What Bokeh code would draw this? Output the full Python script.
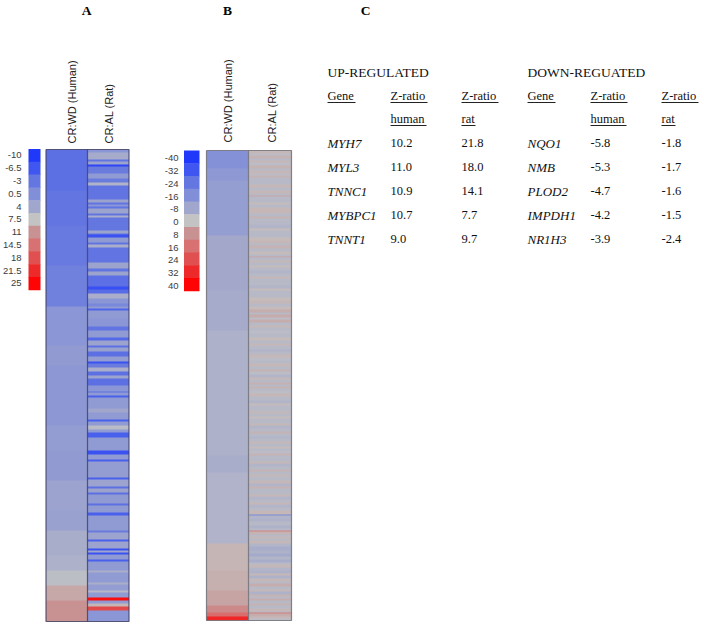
import numpy as np
from bokeh.plotting import figure
from bokeh.models import Range1d, LinearColorMapper
from bokeh.core.properties import value
from bokeh.transform import transform
from bokeh.embed import file_html
from bokeh.resources import INLINE

# ---- data ----
legend_a = [-10, -6.5, -3, 0.5, 4, 7.5, 11, 14.5, 18, 21.5, 25]
legend_b = [-40, -32, -24, -16, -8, 0, 8, 16, 24, 32, 40]
legend_colors = ["#2038fa", "#4058f0", "#6476e0", "#8290d8", "#a0a6cc", "#c4c4c4",
                 "#c89292", "#d87272", "#e05050", "#ee2a2a", "#ff0404"]

a_human_n = [41, 35, 40, 41, 39, 20, 60, 25, 30, 30, 20, 25, 15, 15, 15, 21]
a_human_z = [-3.6, -3.1, -2.5, -1.6, 1.4, 2.2, 1.7, 2.6, 2.3, 3.4, 3.2, 4.8, 5.2, 6.8, 9.5, 11]

a_rat_n = [3, 7, 2, 3, 2, 7, 5, 4, 3, 14, 3, 2, 2, 2, 5, 2, 2, 13, 3, 1, 3, 5, 2, 3, 15, 6, 3, 4,
           11, 3, 4, 5, 5, 3, 2, 2, 8, 8, 4, 7, 3, 5, 2, 4, 5, 5, 2, 4, 4, 4, 3, 7,
           6, 1, 3, 2, 11, 4, 7, 2, 4, 4, 3, 5, 13, 4, 5, 2, 16, 2, 7, 2, 4, 2, 9, 2,
           7, 3, 15, 2, 7, 2, 7, 2, 2, 2, 5, 2, 9, 2, 10, 2, 6, 2, 5, 3, 3, 3, 4, 11]
a_rat_z = [1.4, 4.5, -3.2, 3.5, -8.5, -2.3, 2.1, -2.3, 5.5, -3.2, 3.6, -3.2, 1.4, -3.2, 3.6, -3.2, 5, -3, 3.6, -3.2, -7, 2.1, -3.2, 5, -3.2, 3.6, -3.2, 3.6,
           -3.8, -7.5, -4.2, 5, 1.4, -0.5, 2.1, -5, 2.1, 1.4, -3.2, 2.1, -4.5, 3.6, -3.6, 3.2, -3.6, 2.6, -7, -2.3, 5, -3.6, 3.6, -3.6,
           1.4, -3.6, 2.1, -5.5, 2.1, 4, 2.1, -5.5, 2.1, 6.5, 2.1, -5.5, 2.1, -7, 2.1, -5.5, 2.6, -5.5, 3.4, -3.6, 3.6, -3.6, 2.1, -3.6,
           2.1, -5.5, 2.1, -2.3, 3.4, -5.5, 3.4, -7, 4.2, -7, 2.1, -5.5, 2.1, 5, 2.1, 5, 2.6, 6.2, 2.1, 24, 2.1, 8.5, 18.5, 1.4]

b_human_n = [18, 12, 17, 38, 55, 40, 125, 17, 71, 27, 20, 15, 7, 4, 4]
b_human_z = [-15.5, -12.8, -10.7, -10.7, -7.2, -6.7, -5.3, -6.2, -4.4, 2.4, 3.3, 5, 10, 17, 33]

b_rat_n = [3, 2, 3, 2, 2, 3, 3, 2, 3, 2, 2, 3,
           4, 3, 3, 3, 2, 1, 3, 3, 2, 3, 3,
           3, 3, 2, 3, 3, 4, 2, 3, 4, 3,
           3, 2, 3, 3, 3, 2, 1, 3, 2, 3, 2, 3,
           3, 3, 2, 4, 3, 3, 2, 3, 4, 3,
           3, 3, 3, 3, 2, 3, 2, 3, 3, 2, 3,
           3, 4, 3, 3, 2, 4, 2, 3, 3, 3,
           3, 3, 3, 2, 3, 3, 2, 3, 2, 2, 2, 2,
           3, 3, 4, 3, 2, 3, 3, 2, 3, 2, 2,
           3, 2, 3, 3, 2, 3, 2, 3, 2, 3, 2, 2,
           3, 2, 3, 3, 2, 3, 3, 2, 3, 2, 4,
           3, 3, 2, 3, 3, 2, 3, 3, 2, 3, 3,
           4, 1, 3, 3, 4, 3, 2, 1, 3, 2, 2, 2,
           3, 3, 4, 3, 3, 3, 3, 2, 3, 3,
           3, 2, 3, 3, 2, 3, 3, 2, 3, 2, 2, 2,
           3, 2, 3, 3, 1, 1, 3, 2, 2]
b_rat_z = [2, -2, 2.5, -3, 2, -2, 2.5, -3, 2, -2, 2.5, -3,
           -3, 2, -3, 2, -3, 5, -3, -3, 1.5, -3, 2,
           2, -3, 2.5, -3, -3, -4, 1.5, -3, -3, 1.5,
           2, -3, 2.5, -3, 1.5, -3, 5, -3, 2, -3, 1.5, -3,
           -4, -3, 2, -3, -3, -4, 1.5, -3, -3, 1.5,
           2, -3, 1.5, 3.5, -3, 4, -2, 3.5, -3, 2, -3,
           -2, -3, 1.5, -3, 2, -3, -4.5, -3, 2, -2,
           -3, 2, -3, 2.5, -2, -4, 2, -3, 3, -3, 2.5, -3,
           -2, 2, -3, -4, 1.5, -3, -3, 2, -3, 1.5, -3,
           -3, 2, -4, -3, 2.5, -3, -4, -3, 2, -3, 1.5, -3,
           -2, 2.5, -3, -3, 2, -4, -3, 2.5, -3, 2, -3,
           2, -4, 2.5, -3, -3, 2, -4, -3, 2, -4, -3,
           2, -18, -4, -5, -3, -5, -3, 12, 2.5, -3, 2, -3,
           2, -4, -6, -5, -7, -4, -6, -3, 2, -4,
           -5, 2, -5, 2, -3, 3.5, -3, 2, -5, 2.5, -3, 3.5,
           -3, 2.5, -3, 2, -3, 14, 3.5, 2, -2]

panel_labels = ["A", "B", "C"]
column_labels = ["CR:WD (Human)", "CR:AL (Rat)"]

table_titles = ["UP-REGULATED", "DOWN-REGUATED"]
header_1 = ["Gene", "Z-ratio", "Z-ratio"]
header_2 = ["", "human", "rat"]
up_genes = ["MYH7", "MYL3", "TNNC1", "MYBPC1", "TNNT1"]
up_human = ["10.2", "11.0", "10.9", "10.7", "9.0"]
up_rat = ["21.8", "18.0", "14.1", "7.7", "9.7"]
down_genes = ["NQO1", "NMB", "PLOD2", "IMPDH1", "NR1H3"]
down_human = ["-5.8", "-5.3", "-4.7", "-4.2", "-3.9"]
down_rat = ["-1.8", "-1.7", "-1.6", "-1.5", "-2.4"]

assert len(a_rat_n) == len(a_rat_z) and len(b_rat_n) == len(b_rat_z)

# ---- scale ----
def hex2rgb(h):
    return [int(h[i:i + 2], 16) for i in (1, 3, 5)]

knots = np.array([hex2rgb(c) for c in legend_colors], dtype=float)
pos = np.linspace(0, 1, len(knots))
grid = np.linspace(0, 1, 256)
palette = ["#%02x%02x%02x" % tuple(int(round(np.interp(g, pos, knots[:, k]))) for k in range(3)) for g in grid]
map_a = LinearColorMapper(palette=palette, low=-10, high=25)
map_b = LinearColorMapper(palette=palette, low=-40, high=40)

W, H = 700, 625
p = figure(width=W, height=H, x_range=Range1d(0, W), y_range=Range1d(H, 0),
           output_backend="svg", toolbar_location=None, min_border=0, outline_line_color=None)
p.axis.visible = False
p.grid.visible = False
p.background_fill_color = "white"


def column(n, z, x0, x1, top, mapper):
    e = top + np.concatenate([[0], np.cumsum(n)])
    low = e[1:] + 0.6
    low[-1] = e[-1]
    p.quad(left=x0, right=x1, top="top", bottom="bottom",
           fill_color=transform("z", mapper), line_color=None,
           source=dict(top=e[:-1], bottom=low, z=z))
    return e[-1]


def heat(nh, zh, nr, zr, x0, xm, x1, top, mapper, edge, lw):
    b1 = column(nh, zh, x0, xm, top, mapper)
    b2 = column(nr, zr, xm, x1, top, mapper)
    bottom = max(b1, b2)
    p.multi_line(xs=[[x0, x0, x1, x1, x0], [xm, xm]],
                 ys=[[top, bottom, bottom, top, top], [top, bottom]],
                 line_color=edge, line_width=lw, line_alpha=0.85)


heat(a_human_n, a_human_z, a_rat_n, a_rat_z, 45.5, 87, 128.5, 149, map_a, "#404060", 1.2)
heat(b_human_n, b_human_z, b_rat_n, b_rat_z, 206, 248, 291, 150, map_b, "#707078", 1.2)


def legend(vals, x0, x1, top, step, mapper, xlab, dy):
    v = np.array(vals, dtype=float)
    i = np.arange(len(v))
    t, b = top + i * step, top + (i + 1) * step
    p.quad(left=x0, right=x1, top="top", bottom="bottom", fill_color=transform("z", mapper), line_color=None,
           source=dict(top=t, bottom=b + 0.5, z=v))
    p.text(x=[xlab] * len(v), y=(t + b) / 2 + dy, text=[f"{x:g}" for x in vals], text_align="right",
           text_baseline="middle", text_font=value("Liberation Sans"), text_font_size="9.5px",
           text_color="#3c3c3c")


legend(legend_a, 28, 40, 148.5, 12.8, map_a, 21, 0)
legend(legend_b, 183.5, 199, 150, 12.75, map_b, 178, 1.5)

# column heads
p.text(x=[71, 108.5, 227, 271.5], y=[143, 143, 142, 142], text=column_labels * 2, angle=np.pi / 2,
       text_align="left", text_baseline="middle", text_font=value("Liberation Sans"),
       text_font_size="11px", text_color="#222222")

# panel letters
p.text(x=[86, 227, 365], y=[10, 10, 10], text=panel_labels, text_align="center", text_baseline="middle",
       text_font=value("Liberation Serif"), text_font_style="bold", text_font_size="13.5px", text_color="black")


def tx(x, y, labels, style="normal", size="12.5px"):
    p.text(x=[x] * len(labels), y=y, text=labels, text_align="left", text_baseline="middle",
           text_font=value("Liberation Serif"), text_font_style=style, text_font_size=size,
           text_color="#111111")


row_y = [142.5, 166.5, 190.5, 214.5, 238.5]
cols = [[327, 390, 461], [527, 590, 661]]
widths_1 = [28, 37, 37]
widths_2 = [0, 36, 14]
for c, title, g, hu, ra in zip(cols, table_titles, [up_genes, down_genes], [up_human, down_human], [up_rat, down_rat]):
    tx(c[0], [71.5], [title], size="13.5px")
    for xi, h1, h2, w1, w2 in zip(c, header_1, header_2, widths_1, widths_2):
        tx(xi, [95.5], [h1])
        p.segment(x0=[xi], x1=[xi + w1], y0=[102], y1=[102], line_color="#222222", line_width=1)
        if h2:
            tx(xi, [118.5], [h2])
            p.segment(x0=[xi], x1=[xi + w2], y0=[125], y1=[125], line_color="#222222", line_width=1)
    tx(c[0], row_y, g, "italic", "13px")
    tx(c[1], row_y, hu)
    tx(c[2], row_y, ra)

open("out.html", "w").write(file_html(p, INLINE))
